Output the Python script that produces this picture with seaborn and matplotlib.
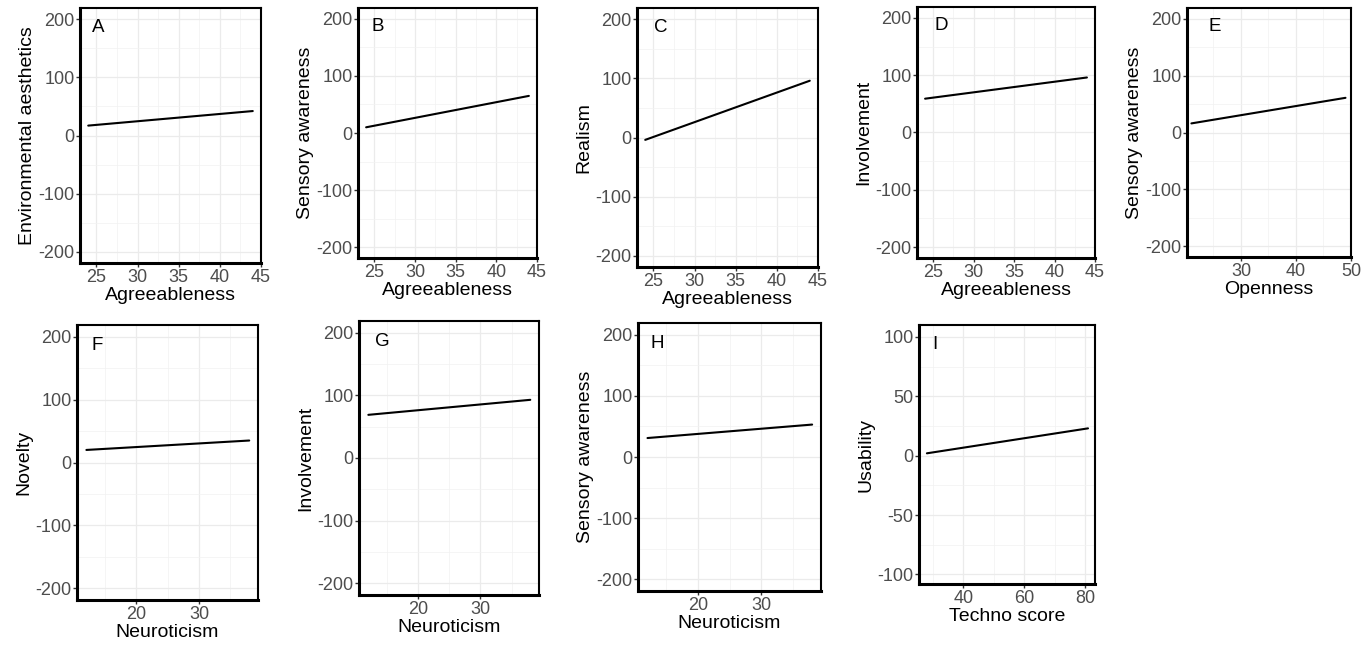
import numpy as np
import pandas as pd
import matplotlib
matplotlib.use("Agg")
import matplotlib.pyplot as plt
import seaborn as sns
from matplotlib.ticker import MultipleLocator

# panel data (fitted lines)
letters = ["A", "B", "C", "D", "E", "F", "G", "H", "I"]
x_names = ["Agreeableness", "Agreeableness", "Agreeableness", "Agreeableness",
           "Openness", "Neuroticism", "Neuroticism", "Neuroticism", "Techno score"]
y_names = ["Environmental aesthetics", "Sensory awareness", "Realism", "Involvement",
           "Sensory awareness", "Novelty", "Involvement", "Sensory awareness", "Usability"]
x_start = [24, 24, 24, 24, 21, 12, 12, 12, 28]
x_end = [44, 44, 44, 44, 49, 38, 38, 38, 81]
y_start = [17, 10, -4, 59, 16, 20, 69, 31, 2]
y_end = [42, 65, 96, 96, 61, 35, 93, 53, 23]

# axis settings
x_lims = [(23, 45)] * 4 + [(20.2, 50)] + [(10.5, 39.4)] * 3 + [(25.4, 83.3)]
x_major = [5, 5, 5, 5, 10, 10, 10, 10, 20]
y_lims = [(-219, 219)] * 8 + [(-108, 110)]
y_major = [100] * 8 + [50]

# panel boxes in pixels: left, right, top, bottom
W, H = 1370, 646
boxes = [
    (80, 261, 8, 263), (358, 537, 8, 258), (637, 818, 8, 267),
    (917, 1095, 7, 258), (1187, 1351, 8, 257),
    (77, 258, 325, 600), (359, 539, 321, 595), (638, 821, 323, 591),
    (919, 1095, 325, 584),
]
letter_x = [0.10, 0.11, 0.13, 0.135, 0.17, 0.11, 0.13, 0.105, 0.09]

sns.set_theme(style="white")
plt.rcParams["font.family"] = ["Liberation Sans", "DejaVu Sans"]
plt.rcParams["axes.unicode_minus"] = False

fig = plt.figure(figsize=(W / 100, H / 100), dpi=100)

for i in range(9):
    l, r, t, b = boxes[i]
    ax = fig.add_axes([l / W, 1 - b / H, (r - l) / W, (b - t) / H])

    df = pd.DataFrame({"x": [x_start[i], x_end[i]], "y": [y_start[i], y_end[i]]})
    sns.lineplot(data=df, x="x", y="y", ax=ax, color="black", linewidth=1.5)

    ax.set_xlim(*x_lims[i])
    ax.set_ylim(*y_lims[i])
    ax.xaxis.set_major_locator(MultipleLocator(x_major[i]))
    ax.xaxis.set_minor_locator(MultipleLocator(x_major[i] / 2))
    ax.yaxis.set_major_locator(MultipleLocator(y_major[i]))
    ax.yaxis.set_minor_locator(MultipleLocator(y_major[i] / 2))

    ax.grid(which="major", color="#EBEBEB", linewidth=0.9)
    ax.grid(which="minor", color="#F2F2F2", linewidth=0.5)
    ax.set_axisbelow(True)

    ax.tick_params(which="major", length=3, width=1, color="#333333",
                   labelsize=13, labelcolor="#4D4D4D", pad=1,
                   bottom=True, left=True)
    ax.tick_params(which="minor", length=0)

    for side in ["top", "right"]:
        ax.spines[side].set_linewidth(1.5)
        ax.spines[side].set_color("black")
    for side in ["left", "bottom"]:
        ax.spines[side].set_linewidth(2.2)
        ax.spines[side].set_color("black")

    ax.set_xlabel(x_names[i], fontsize=14, color="black", labelpad=1)
    ax.set_ylabel(y_names[i], fontsize=14, color="black", labelpad=2)
    ax.text(letter_x[i], 0.925, letters[i], transform=ax.transAxes,
            fontsize=13.5, ha="center", va="center", color="black")

fig.savefig("out.png", dpi=100)
